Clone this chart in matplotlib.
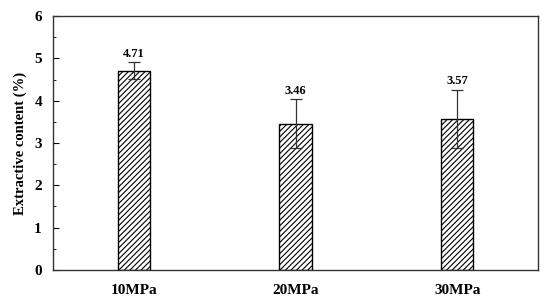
import matplotlib
matplotlib.use("Agg")
import matplotlib.pyplot as plt
from matplotlib.ticker import MultipleLocator

categories = ["10MPa", "20MPa", "30MPa"]
values = [4.71, 3.46, 3.57]
errors = [0.20, 0.57, 0.69]
labels = ["4.71", "3.46", "3.57"]

plt.rcParams['font.family'] = ['Liberation Serif', 'DejaVu Serif']
plt.rcParams['hatch.linewidth'] = 0.8

fig = plt.figure(figsize=(5.5, 3.04), dpi=100)
ax = fig.add_axes([0.0964, 0.112, 0.8818, 0.835])

x = list(range(len(categories)))
ax.bar(x, values, width=0.2, color='white', edgecolor='black', hatch='//////',
       linewidth=1.0, zorder=2)
ax.errorbar(x, values, yerr=errors, fmt='none', ecolor='#333333', elinewidth=0.9,
            capsize=4, capthick=0.9, zorder=3)
for xi, v, e, t in zip(x, values, errors, labels):
    ax.text(xi, v + e + 0.06, t, ha='center', va='bottom', fontsize=9, fontweight='bold')

ax.set_xlim(-0.5, 2.5)
ax.set_ylim(0, 6)
ax.set_xticks(x)
ax.set_xticklabels(categories, fontsize=11, fontweight='bold')
ax.tick_params(axis='x', length=0, pad=10)
ax.yaxis.set_major_locator(MultipleLocator(1))
ax.yaxis.set_minor_locator(MultipleLocator(0.5))
ax.tick_params(axis='y', which='major', direction='in', length=4, labelsize=11, pad=8)
ax.tick_params(axis='y', which='minor', direction='in', length=2)
for lab in ax.get_yticklabels():
    lab.set_fontweight('bold')
ax.set_ylabel("Extractive content (%)", fontsize=10.5, fontweight='bold', labelpad=5)
for s in ax.spines.values():
    s.set_linewidth(1.0)
    s.set_color('#333333')

fig.savefig("out.png", dpi=100)
